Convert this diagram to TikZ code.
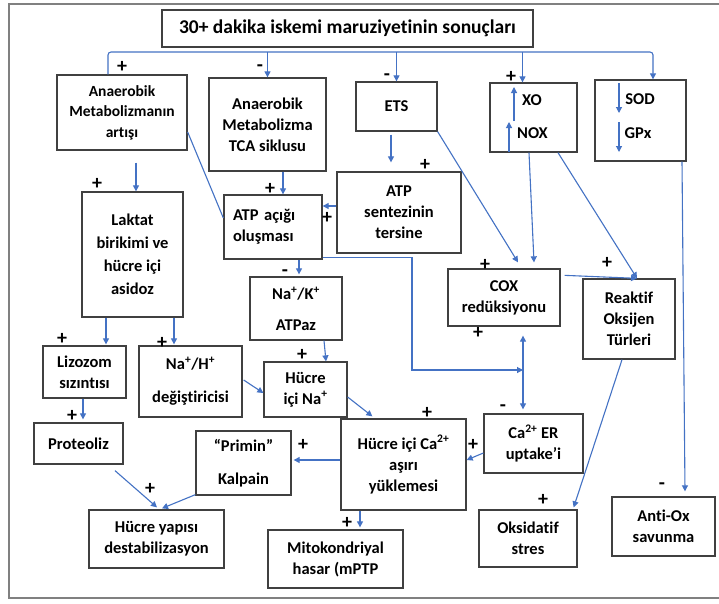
\documentclass[tikz,border=0pt]{standalone}
\usepackage{fontspec}
\setmainfont{Carlito}[Ligatures=NoCommon]
\usetikzlibrary{calc,arrows.meta}
\definecolor{lineblue}{RGB}{68,114,196}
\definecolor{boxgray}{RGB}{64,64,64}
\definecolor{framegray}{RGB}{128,128,128}
\begin{document}
\begin{tikzpicture}[x=1pt,y=-1pt,
  every node/.style={font=\bfseries\fontsize{16.5}{21}\selectfont},
  blk/.style 2 args={draw=boxgray,line width=1.3pt,minimum width=#1pt,minimum height=#2pt,align=center,inner sep=2pt},
  lnk/.style={lineblue,line width=1.1pt},
  arr/.style={lnk,-{Triangle[length=6pt,width=6pt]}},
  sgn/.style={font=\bfseries\fontsize{20}{20}\selectfont,inner sep=0pt}]
\useasboundingbox[fill=white] (0,0) rectangle (719,603);
\draw[framegray,line width=1.8pt] (725,4) -- (9,4) -- (9,598) -- (725,598);
% boxes
\node[blk={371}{37},font=\bfseries\fontsize{19.5}{22}\selectfont] (title) at (347.5,28.5) {30+ dakika iskemi maruziyetinin sonuçları};
\node[blk={130}{75},font=\bfseries\fontsize{15.5}{20.5}\selectfont] (art) at (122,112.5) {Anaerobik\\Metabolizmanın\\artışı};
\node[blk={117}{93}] (tca) at (267.5,124.5) {Anaerobik\\Metabolizma\\TCA siklusu};
\node[blk={81}{49}] (ets) at (396.5,106.5) {ETS};
\node[blk={87}{69}] (xobox) at (533.5,117.5) {};
\node (xo) at (532,100) {XO};
\node (nox) at (532.5,133) {NOX};
\node[blk={91}{81}] (sod) at (640.5,120.5) {};
\node (sodt) at (640,99) {SOD};
\node (gpx) at (638,133) {GPx};
\node[blk={101}{125},font=\bfseries\fontsize{16.5}{23}\selectfont] (lak) at (132.5,254.5) {Laktat\\birikimi  ve\\hücre içi\\asidoz};
\node[blk={98}{64},text width=80pt,align=left] (acik) at (273,227) {ATP açığı\\oluşması};
\node[blk={124}{81}] (ters) at (399,212.5) {ATP\\sentezinin\\tersine};
\node[blk={92}{63}] (nak) at (296,308.5) {Na\textsuperscript{+}/K\textsuperscript{+}\\[10pt]ATPaz};
\node[blk={112}{57}] (cox) at (504,297.5) {COX\\redüksiyonu};
\node[blk={92}{80}] (ros) at (629,319) {Reaktif\\Oksijen\\Türleri};
\node[blk={83}{52}] (liz) at (84.5,372) {Lizozom\\sızıntısı};
\node[blk={103}{71}] (nah) at (190.5,381.5) {Na\textsuperscript{+}/H\textsuperscript{+}\\[12pt]değiştiricisi};
\node[blk={83}{55}] (hna) at (305.5,389.5) {Hücre\\içi Na\textsuperscript{+}};
\node[blk={89}{41}] (prot) at (78.5,443.5) {Proteoliz};
\node[blk={95}{64}] (kal) at (243.5,463) {“Primin”\\[12pt]Kalpain};
\node[blk={125}{91}] (hca) at (403.5,464.5) {Hücre içi  Ca\textsuperscript{2+}\\aşırı\\yüklemesi};
\node[blk={99}{59}] (caer) at (533.5,443.5) {Ca\textsuperscript{2+} ER\\uptake’i};
\node[blk={135}{58}] (hyd) at (156.5,539) {Hücre yapısı\\destabilizasyon};
\node[blk={135}{58}] (mito) at (335.5,559) {Mitokondriyal\\hasar (mPTP};
\node[blk={98}{57}] (oks) at (528,538.5) {Oksidatif\\stres};
\node[blk={103}{59}] (antiox) at (663.5,526.5) {Anti-Ox\\savunma};
% signs
\node[sgn] (s1) at (122,67) {+};
\node[sgn] (s2) at (260,68) {-};
\node[sgn] (s3) at (387,77) {-};
\node[sgn] (s4) at (511,77) {+};
\node[sgn] (s5) at (97,184) {+};
\node[sgn] (s6) at (270,189) {+};
\node[sgn] (s7) at (327,218) {+};
\node[sgn] (s8) at (425,165) {+};
\node[sgn] (s9) at (285,273) {-};
\node[sgn] (s10) at (485,265) {+};
\node[sgn] (s11) at (478,333) {+};
\node[sgn] (s12) at (607,263) {+};
\node[sgn] (s13) at (62,339) {+};
\node[sgn] (s14) at (162,343) {+};
\node[sgn] (s15) at (302,355) {+};
\node[sgn] (s16) at (72,416) {+};
\node[sgn] (s17) at (303,445) {+};
\node[sgn] (s18) at (150,489) {+};
\node[sgn] (s19) at (427,413) {+};
\node[sgn] (s20) at (473,445) {+};
\node[sgn] (s21) at (503,408) {-};
\node[sgn] (s22) at (347,523) {+};
\node[sgn] (s23) at (543,500) {+};
\node[sgn] (s24) at (662,486) {-};
% bus from the title
\coordinate (busL) at (108,52);
\coordinate (busR) at (653,52);
\coordinate (jn) at (523,370);
\draw[arr,rounded corners=3pt] (art.north -| busL) |- (busR) -- (sod.north -| busR);
\draw[arr] (tca.north |- busL) -- (tca.north);
\draw[arr] (ets.north |- busL) -- (ets.north);
\draw[arr] ($(xobox.north |- busL)+(-11,0)$) -- ($(xobox.north)+(-11,0)$);
% arrows inside XO and SOD boxes
\draw[arr] ($(xo)+(-18,21)$) -- ($(xo)+(-18,-13)$);
\draw[arr] ($(nox)+(-23.5,19)$) -- ($(nox)+(-23.5,-11)$);
\draw[arr] ($(sodt)+(-21,-16)$) -- ($(sodt)+(-21,14)$);
\draw[arr] ($(gpx)+(-19,-11)$) -- ($(gpx)+(-19,19)$);
% links
\draw[arr] ($(lak.north |- art.south)+(3.5,12)$) -- ($(lak.north)+(3.5,0)$);
\draw[lnk] ($(art.east)+(0,19.5)$) -- ($(acik.west)+(0,-9)$);
\draw[arr] ($(tca.south)+(15.5,0)$) -- ($(acik.north)+(10,0)$);
\draw[arr] ($(ets.south)+(-5.5,3)$) -- ($(ters.north)+(-8,-9)$);
\draw[arr] ($(ters.west)+(0,-6.5)$) -- ($(acik.east)+(0,-21)$);
\draw[arr] ($(acik.south)+(26,0)$) -- ($(nak.north)+(3,-2)$);
\draw[arr] ($(acik.south east)+(0,-2)$) -| ($(jn)+(-111,0)$) -- (jn);
\draw[lnk,{Triangle[length=6pt,width=6pt]}-{Triangle[length=6pt,width=6pt]}] ($(cox.south)+(19,9)$) -- ($(caer.north)+(-10.5,-4)$);
\draw[arr] (ets.south east) -- ($(cox.north)+(14,-6)$);
\draw[arr] ($(xobox.south)+(-4.5,0)$) -- ($(cox.north)+(30,-6)$);
\draw[arr] ($(xobox.south)+(24.5,0)$) -- ($(ros.north)+(8,0)$);
\draw[arr] ($(cox.north east)+(4,7)$) -- ($(ros.north)+(8,0)$);
\draw[arr] ($(sod.south)+(41.5,0)$) -- ($(antiox.north)+(21.5,-5)$);
\draw[arr] ($(ros.south)+(-7,0)$) -- ($(oks.north east)+(-4,-2)$);
\draw[arr] ($(lak.south)+(-26.5,0)$) -- ($(liz.north)+(21.5,-1)$);
\draw[arr] ($(lak.south)+(41.5,0)$) -- ($(nah.north)+(-16.5,-1)$);
\draw[arr] ($(liz.south)+(-1.5,0)$) -- ($(prot.north)+(4.5,-3)$);
\draw[arr] ($(nah.east)+(1,-1.5)$) -- ($(hna.west)+(0,3.5)$);
\draw[arr] ($(nak.south)+(28,0)$) -- ($(hna.north)+(20.5,0)$);
\draw[arr] ($(hna.east)+(0,7.5)$) -- ($(hca.north west)+(32,-2)$);
\draw[arr] ($(caer.west)+(0,9.5)$) -- ($(hca.east)+(0,-4.5)$);
\draw[arr] ($(hca.west)+(0,-4.5)$) -- ($(kal.east)+(2,-3)$);
\draw[arr] ($(prot.south)+(36.5,6)$) -- ($(hyd.north)+(0.5,-2)$);
\draw[arr] ($(kal.south west)+(0,-1)$) -- ($(hyd.north)+(5.5,-1)$);
\draw[arr] ($(hca.south)+(-43.5,0)$) -- ($(mito.north)+(24.5,-2)$);
\end{tikzpicture}
\end{document}
